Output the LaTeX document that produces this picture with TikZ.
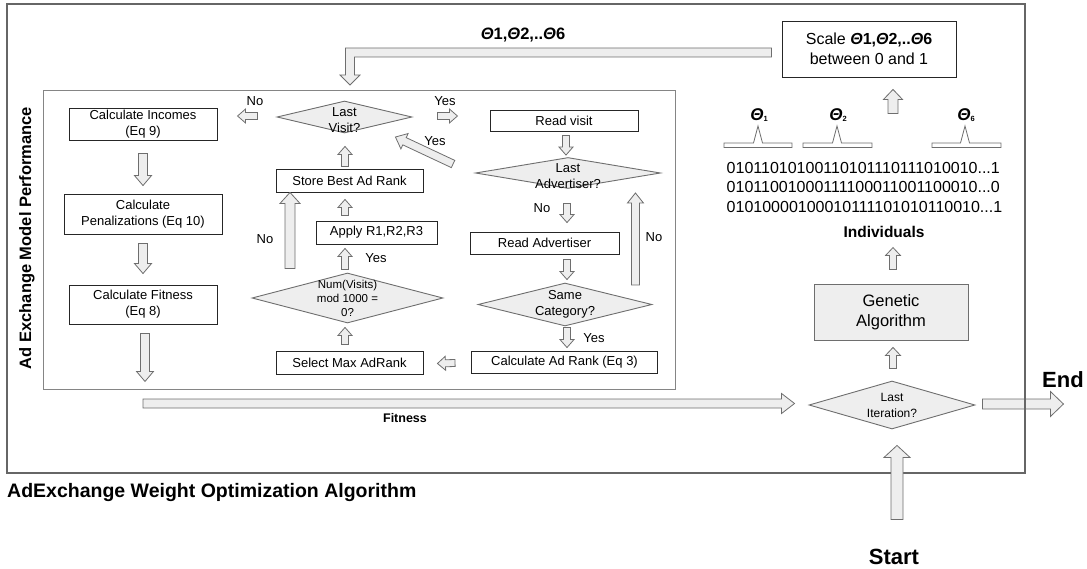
\documentclass[tikz,border=0pt]{standalone}
\usepackage{fontspec}
\setmainfont{Liberation Sans}
\usetikzlibrary{calc,shapes.geometric}
\definecolor{arfill}{HTML}{EEEEEE}
\definecolor{arline}{HTML}{6E6E6E}
\definecolor{frameline}{HTML}{666666}
\newcommand\fsz[2]{\fontsize{#1}{#2}\selectfont}
% block arrow: [style]{from}{to}{shaft half width}{head half width}{head length}
\newcommand\blockarrow[6][]{%
  \coordinate (bas) at #2; \coordinate (bae) at #3;
  \coordinate (bah) at ($(bae)!#6!(bas)$);
  \filldraw[barrow,#1] ($(bas)!#4!90:(bae)$) -- ($(bah)!#4!90:(bae)$) -- ($(bah)!#5!90:(bae)$) -- (bae)
    -- ($(bah)!#5!-90:(bae)$) -- ($(bah)!#4!-90:(bae)$) -- ($(bas)!#4!-90:(bae)$) -- cycle;}
\tikzset{
  barrow/.style={draw=arline, fill=arfill, line width=0.8pt, line join=miter},
  pbox/.style={draw=black!85, line width=0.9pt, inner sep=0pt, align=center, font=\fsz{13}{16}},
  dia/.style={diamond, draw=arline, fill=arfill, line width=0.9pt, inner sep=0pt},
  txt/.style={inner sep=0pt, align=center, font=\fsz{13}{16}},
  lbl/.style={inner sep=0pt, font=\fsz{13}{15}},
  blbl/.style={inner sep=0pt, font=\bfseries\fsz{12.5}{15}},
}
\begin{document}
\begin{tikzpicture}[x=1pt,y=-1pt]
\useasboundingbox (0,0) rectangle (1087,569);

% inner frame
\draw[draw=frameline!80, line width=0.9pt] (43,90) rectangle (675,389);
\node[rotate=90, inner sep=0pt, font=\bfseries\fsz{16.5}{18}] (vt) at (27,238) {Ad Exchange Model Performance};

% left column
\node[pbox, minimum width=148, minimum height=32] (ci) at (143,124) {Calculate Incomes\\(Eq 9)};
\node[pbox, minimum width=158, minimum height=40] (cp) at (143,214) {Calculate\\Penalizations (Eq 10)};
\node[pbox, minimum width=148, minimum height=39] (cf) at (143,304.5) {Calculate Fitness\\(Eq 8)};

% middle column
\node[dia, minimum width=135, minimum height=32] (lv) at (344.5,117) {};
\node[txt] (lvt) at (344.5,120) {Last\\Visit?};
\node[pbox, minimum width=147, minimum height=23] (sb) at (349.5,180.5) {Store Best Ad Rank};
\node[pbox, minimum width=121, minimum height=23] (ap) at (376.5,232.5) {Apply R1,R2,R3};
\node[dia, minimum width=191, minimum height=50] (nv) at (347.5,298) {};
\node[txt, font=\fsz{11.5}{14}] (nvt) at (347.5,298) {Num(Visits)\\mod 1000 =\\0?};
\node[pbox, minimum width=147, minimum height=23] (sm) at (349.5,362.5) {Select Max AdRank};

% right column
\node[pbox, minimum width=148, minimum height=21] (rv) at (564,121) {Read visit};
\node[dia, minimum width=185, minimum height=31] (la) at (568,173) {};
\node[txt] (lat) at (568,176) {Last\\Advertiser?};
\node[pbox, minimum width=149, minimum height=22] (ra) at (544.5,243) {Read Advertiser};
\node[dia, minimum width=174, minimum height=43] (sc) at (565,304.5) {};
\node[txt] (sct) at (565,304) {Same\\Category?};
\node[pbox, minimum width=186, minimum height=22] (ca) at (564.5,362) {Calculate Ad Rank (Eq 3)};

% GA side
\node[pbox, minimum width=174, minimum height=56, font=\fsz{16}{20}] (scb) at (869,49) {Scale \textbf{\textit{Θ}\textbf{1,}\textit{Θ}\textbf{2,..}\textit{Θ}\textbf{6}}\\between 0 and 1};
\node[pbox, draw=arline, fill=arfill, line width=0.9pt, minimum width=154, minimum height=56, font=\fsz{16.5}{20}] (ga) at (891,312) {Genetic\\Algorithm};
\node[dia, minimum width=166, minimum height=48] (li) at (892,405) {};
\node[txt, font=\fsz{12}{16}] (lit) at (892,405) {Last\\Iteration?};
\node[inner sep=0pt, font=\bfseries\fsz{15.5}{18}] (ind) at (884,232) {Individuals};
\node[inner sep=0pt, align=left, font=\fsz{16}{19.5}] (bin) at (864.5,187) {01011010100110101110111010010...1\\01011001000111100011001100010...0\\01010000100010111101010110010...1};

% theta brackets
\foreach \xa/\xb/\px/\nm/\sub in {724/792/758/t1/1, 803/872/837/t2/2, 932/1001/965/t6/6}{
  \draw[draw=arline, line width=0.8pt, fill=white] (\xa,143) -- (\px-4.5,143) -- (\px,126) -- (\px+4.5,143) -- (\xb,143) -- (\xb,147.5) -- (\xa,147.5) -- cycle;
  \node[inner sep=0pt, font=\fsz{17}{18}] (\nm) at (\px+1,115) {\textbf{\textit{Θ}}\raisebox{-1pt}{\fsz{7.5}{8}\textbf{\sub}}};
}

% labels
\node[inner sep=0pt, font=\bfseries\fsz{16.5}{18}] (thl) at (523,35) {\textit{Θ}1,\textit{Θ}2,..\textit{Θ}6};
\node[blbl] (fitl) at (405,418) {Fitness};
\node[inner sep=0pt, anchor=west, font=\bfseries\fsz{19.5}{22}] (title) at (7,492) {AdExchange Weight Optimization Algorithm};
\node[inner sep=0pt, font=\bfseries\fsz{22}{24}] (startl) at (894,557) {Start};
\node[inner sep=0pt, font=\bfseries\fsz{22}{24}] (endl) at (1063,380) {End};

\node[lbl] (n1) at (255,101) {No};
\node[lbl] (y1) at (445,101) {Yes};
\node[lbl] (y2) at (435,141) {Yes};
\node[lbl] (n2) at (265,239) {No};
\node[lbl] (y3) at (376,258) {Yes};
\node[lbl] (n3) at (542,208) {No};
\node[lbl] (n4) at (654,237) {No};
\node[lbl] (y4) at (594,338) {Yes};

% arrows left column
\blockarrow{($(ci.south)+(0,13)$)}{($(cp.north)+(0,-8)$)}{4.5pt}{8.5pt}{10pt}
\blockarrow{($(cp.south)+(0,9)$)}{($(cf.north)+(0,-11)$)}{4.5pt}{8.5pt}{10pt}
\blockarrow{($(cf.south)+(2,9)$)}{($(cf.south)+(2,57)$)}{4.5pt}{8.5pt}{10pt}
\coordinate (fitS) at (143,403.5);
\blockarrow{(fitS)}{($(li.west)+(-14,-1.5)$)}{4.5pt}{10pt}{13pt}

% middle column arrows
\blockarrow{($(lv.west)+(-19,-1)$)}{($(lv.west)+(-39,-1)$)}{3.5pt}{7pt}{8pt}
\blockarrow{($(lv.east)+(25,-1)$)}{($(lv.east)+(45,-1)$)}{3.5pt}{7pt}{8pt}
\blockarrow{($(sb.north)+(-4.5,-2)$)}{($(lv.south)+(0.5,13)$)}{3.5pt}{7pt}{8pt}
\blockarrow{($(la.west)+(-22,-9)$)}{($(lv.east)+(-17,20)$)}{4pt}{8.5pt}{10pt}
\blockarrow{($(ap.north)+(-31.5,-5)$)}{($(sb.south)+(-4.5,7)$)}{3.5pt}{7pt}{8pt}
\blockarrow{($(nv.north)+(-57.5,-4)$)}{($(sb.south)+(-59.5,0)$)}{5pt}{10pt}{11pt}
\blockarrow{($(nv.north)+(-2.5,-3)$)}{($(ap.south)+(-31.5,4)$)}{3.5pt}{7pt}{8pt}
\blockarrow{($(sm.north)+(-4.5,-6)$)}{($(nv.south)+(-2.5,4)$)}{3.5pt}{7pt}{8pt}
\blockarrow{($(ca.west)+(-16,1)$)}{($(sm.east)+(14,1)$)}{3.5pt}{7pt}{8pt}

% right column arrows
\blockarrow{($(rv.south)+(2,3.5)$)}{($(la.north)+(-2,-2)$)}{3.5pt}{7pt}{8pt}
\blockarrow{($(la.south)+(-1,14.5)$)}{($(ra.north)+(22.5,-9)$)}{3.5pt}{7pt}{8pt}
\blockarrow{($(ra.south)+(22.5,5)$)}{($(sc.north)+(2,-3)$)}{3.5pt}{7pt}{8pt}
\blockarrow{($(sc.south)+(2,1)$)}{($(ca.north)+(2.5,-3)$)}{3.5pt}{7pt}{8pt}
\blockarrow{($(ra.east)+(16,42)$)}{($(ra.east)+(16,-50)$)}{4pt}{8pt}{10pt}

% GA side arrows
\blockarrow{($(li.north)+(1,-12)$)}{($(ga.south)+(2,7)$)}{3.5pt}{7.5pt}{8pt}
\blockarrow{($(ga.north)+(2,-14)$)}{($(ga.north)+(2,-36)$)}{3.5pt}{7.5pt}{8pt}
\blockarrow{($(scb.south)+(24,36)$)}{($(scb.south)+(24,12)$)}{5pt}{9.5pt}{10pt}

% top L-shaped arrow
\filldraw[barrow] ($(scb.west)+(-10,-1)$) -- (345.5,48) -- (345.5,75) -- (340,75) -- (350,85) -- (360,75) -- (354.5,75) -- (354.5,57) -- ($(scb.west)+(-10,8)$) -- cycle;

% end arrow, outer frame, start arrow
\blockarrow{($(li.east)+(7,-1)$)}{($(li.east)+(88,-1)$)}{5pt}{12.5pt}{13pt}
\draw[draw=frameline, line width=2pt] (7,4) rectangle (1025,473);
\blockarrow{($(li.south)+(5,90)$)}{($(li.south)+(5,16)$)}{6pt}{13pt}{12pt}
\end{tikzpicture}
\end{document}
